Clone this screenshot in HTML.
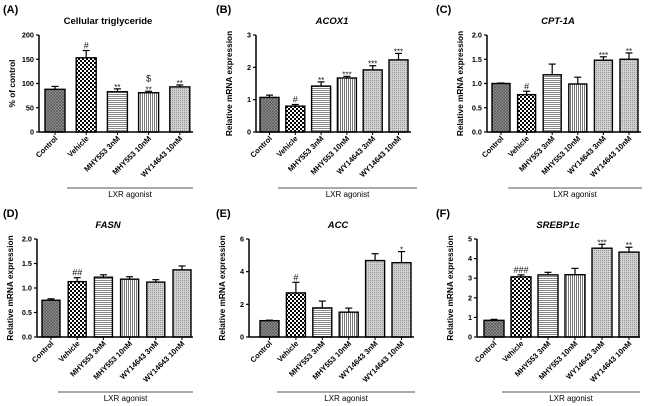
<!DOCTYPE html>
<html><head><meta charset="utf-8"><style>
html,body{margin:0;padding:0;background:#fff;}
svg{display:block;font-family:"Liberation Sans",Arial,sans-serif;}
</style></head><body>
<svg id="fig" width="650" height="406" viewBox="0 0 650 406" xmlns="http://www.w3.org/2000/svg">
<defs>
<pattern id="pCtrl" width="3" height="3" patternUnits="userSpaceOnUse"><rect width="3" height="3" fill="#9a9a9a"/><path d="M0 0L3 3M3 0L0 3" stroke="#555" stroke-width="0.7"/></pattern>
<pattern id="pVeh" width="4" height="4" patternUnits="userSpaceOnUse"><rect width="4" height="4" fill="#fff"/><rect width="2" height="2" fill="#000"/><rect x="2" y="2" width="2" height="2" fill="#000"/></pattern>
<pattern id="pH" width="3" height="2" patternUnits="userSpaceOnUse"><rect width="3" height="2" fill="#fff"/><rect width="3" height="1" fill="#888"/></pattern>
<pattern id="pV" width="2" height="3" patternUnits="userSpaceOnUse"><rect width="2" height="3" fill="#fff"/><rect width="1" height="3" fill="#777"/></pattern>
<pattern id="pDot" width="2" height="2" patternUnits="userSpaceOnUse"><rect width="2" height="2" fill="#d0d0d0"/><rect width="1" height="1" fill="#999"/></pattern>
</defs>
</svg>
<script>
const catsA=["Control","Vehicle","MHY553 3nM","MHY553 10nM","WY14643 10nM"];
const cats6=["Control","Vehicle","MHY553 3nM","MHY553 10nM","WY14643 3nM","WY14643 10nM"];
const valsA=[88,153,83,81,93];
const errA=[6,15,6,3,4];
const sigA=["","#","**","$\n**","**"];
const ticksA=[0,50,100,150,200];
const valsB=[1.07,0.80,1.42,1.67,1.92,2.23];
const errB=[0.07,0.05,0.13,0.05,0.13,0.2];
const sigB=["","#","**","***","***","***"];
const ticksB=["0","1","2","3"];
const valsC=[1.0,0.77,1.18,0.99,1.48,1.5];
const errC=[0.01,0.07,0.22,0.14,0.07,0.13];
const sigC=["","#","","","***","**"];
const ticksC=["0.0","0.5","1.0","1.5","2.0"];
const valsD=[0.75,1.13,1.22,1.18,1.12,1.37];
const errD=[0.03,0.08,0.05,0.05,0.05,0.08];
const sigD=["","##","","","",""];
const ticksD=["0.0","0.5","1.0","1.5","2.0"];
const valsE=[1.0,2.7,1.78,1.52,4.68,4.55];
const errE=[0.03,0.65,0.42,0.25,0.42,0.68];
const sigE=["","#","","","","*"];
const ticksE=["0","2","4","6"];
const valsF=[0.85,3.07,3.17,3.18,4.53,4.33];
const errF=[0.05,0.1,0.13,0.32,0.2,0.25];
const sigF=["","###","","","***","**"];
const ticksF=["0","1","2","3","4","5"];

const NS="http://www.w3.org/2000/svg";
const svg=document.getElementById('fig');
function mk(tag,attrs,parent,text){const e=document.createElementNS(NS,tag);for(const k in attrs)e.setAttribute(k,attrs[k]);if(text!==undefined)e.textContent=text;(parent||svg).appendChild(e);return e;}
const fillsA=["url(#pCtrl)","url(#pVeh)","url(#pH)","url(#pV)","url(#pDot)"];
const fills6=["url(#pCtrl)","url(#pVeh)","url(#pH)","url(#pV)","url(#pDot)","url(#pDot)"];

function panel(cfg){
  const g=mk('g',{});
  
  
  const yMax=parseFloat(cfg.ticks[cfg.ticks.length-1]);
  const ys=v=>cfg.y0-(v/yMax)*(cfg.y0-cfg.yTop);
  const xs=i=>cfg.b0+i*cfg.step;
  const lt=mk('text',{x:cfg.lx,y:cfg.ly,'font-size':11,'font-weight':'bold'},g,cfg.letter);
  
  
  const tt=mk('text',{x:cfg.tx,y:cfg.ty,'font-size':9.5,'font-weight':'bold','font-style':cfg.italic?'italic':'normal','text-anchor':'middle'},g,cfg.title);
  
  
  const yl=mk('text',{transform:`translate(${cfg.ax-24},${(cfg.y0+cfg.yTop)/2}) rotate(-90)`,'font-size':8.3,'font-weight':'bold','text-anchor':'middle'},g,cfg.ylabel);
  
  
  cfg.vals.forEach((v,i)=>{
    const x=xs(i);
    const top=ys(v+cfg.err[i]);
    const el=mk('line',{x1:x+cfg.bw/2,x2:x+cfg.bw/2,y1:ys(v),y2:top,stroke:'#000','stroke-width':1.2},g);
    
    
    const cap=mk('line',{x1:x+cfg.bw/2-3.5,x2:x+cfg.bw/2+3.5,y1:top,y2:top,stroke:'#000','stroke-width':1.2},g);
    
    
    const r=mk('rect',{x:x,y:ys(v),width:cfg.bw,height:cfg.y0-ys(v),fill:cfg.fills[i],stroke:'#000','stroke-width':1.4},g);
    
    
    const s=cfg.sig[i];
    if(s){
      const lines=s.split('\n');
      lines.forEach((ln,k)=>{
        const yy=top-2-(lines.length-1-k)*8;
        const st=mk('text',{x:x+cfg.bw/2,y:yy+(ln.startsWith('*')?3:0),'font-size':ln.startsWith('*')?8:9,'text-anchor':'middle',fill:'#111'},g,ln);
        
        
      });
    }
    const lb=mk('text',{transform:`translate(${x+cfg.bw/2+3},${cfg.y0+7}) rotate(-45)`,'font-size':7.6,'font-weight':'bold','text-anchor':'end'},g,cfg.cats[i]);
    
    
    const tk=mk('line',{x1:x+cfg.bw/2,x2:x+cfg.bw/2,y1:cfg.y0,y2:cfg.y0+3,stroke:'#000','stroke-width':1},g);
    
    
  });
  const ya=mk('line',{x1:cfg.ax,x2:cfg.ax,y1:cfg.yTop,y2:cfg.y0,stroke:'#000','stroke-width':1.5},g);
  
  
  const xa=mk('line',{x1:cfg.ax,x2:cfg.xEnd,y1:cfg.y0,y2:cfg.y0,stroke:'#000','stroke-width':1.5},g);
  
  
  cfg.ticks.forEach(t=>{
    const y=ys(parseFloat(t));
    const tl=mk('line',{x1:cfg.ax-3,x2:cfg.ax,y1:y,y2:y,stroke:'#000','stroke-width':1.2},g);
    
    
    const tx=mk('text',{x:cfg.ax-5,y:y+2.5,'font-size':7.3,'font-weight':'bold','text-anchor':'end'},g,t);
    
    
  });
  const gl=mk('line',{x1:cfg.g1,x2:cfg.g2,y1:cfg.gy,y2:cfg.gy,stroke:'#555','stroke-width':1},g);
  
  
  const gt=mk('text',{x:(cfg.g1+cfg.g2)/2,y:cfg.gy+9,'font-size':8,'text-anchor':'middle'},g,'LXR agonist');
  
  
}
const rel="Relative mRNA expression";
panel({name:'panel-a-triglyceride',letter:'(A)',lx:3,ly:13,title:'Cellular triglyceride',italic:false,tx:108,ty:24,ylabel:'% of control',ax:39,yTop:35,y0:132,xEnd:193,b0:45,step:31.2,bw:20,vals:valsA,err:errA,sig:sigA,ticks:ticksA.map(String),cats:catsA,fills:fillsA,g1:67,g2:193,gy:188});
panel({name:'panel-b-acox1',letter:'(B)',lx:216,ly:13,title:'ACOX1',italic:true,tx:332,ty:24,ylabel:rel,ax:256,yTop:35,y0:132,xEnd:411,b0:260,step:25.8,bw:19,vals:valsB,err:errB,sig:sigB,ticks:ticksB,cats:cats6,fills:fills6,g1:278,g2:417,gy:188});
panel({name:'panel-c-cpt1a',letter:'(C)',lx:436,ly:13,title:'CPT-1A',italic:true,tx:558,ty:24,ylabel:rel,ax:487,yTop:35,y0:132,xEnd:641,b0:492,step:25.6,bw:18,vals:valsC,err:errC,sig:sigC,ticks:ticksC,cats:cats6,fills:fills6,g1:508,g2:642,gy:188});
panel({name:'panel-d-fasn',letter:'(D)',lx:3,ly:217,title:'FASN',italic:true,tx:108,ty:228,ylabel:rel,ax:37,yTop:239,y0:337,xEnd:193,b0:42,step:26.2,bw:18,vals:valsD,err:errD,sig:sigD,ticks:ticksD,cats:cats6,fills:fills6,g1:58,g2:193,gy:392});
panel({name:'panel-e-acc',letter:'(E)',lx:216,ly:217,title:'ACC',italic:true,tx:338,ty:228,ylabel:rel,ax:249,yTop:239,y0:337,xEnd:414,b0:260,step:26.4,bw:19,vals:valsE,err:errE,sig:sigE,ticks:ticksE,cats:cats6,fills:fills6,g1:277,g2:415,gy:392});
panel({name:'panel-f-srebp1c',letter:'(F)',lx:436,ly:217,title:'SREBP1c',italic:true,tx:558,ty:228,ylabel:rel,ax:477,yTop:239,y0:337,xEnd:640,b0:484,step:27,bw:20,vals:valsF,err:errF,sig:sigF,ticks:ticksF,cats:cats6,fills:fills6,g1:502,g2:640,gy:392});
</script>
</body></html>
